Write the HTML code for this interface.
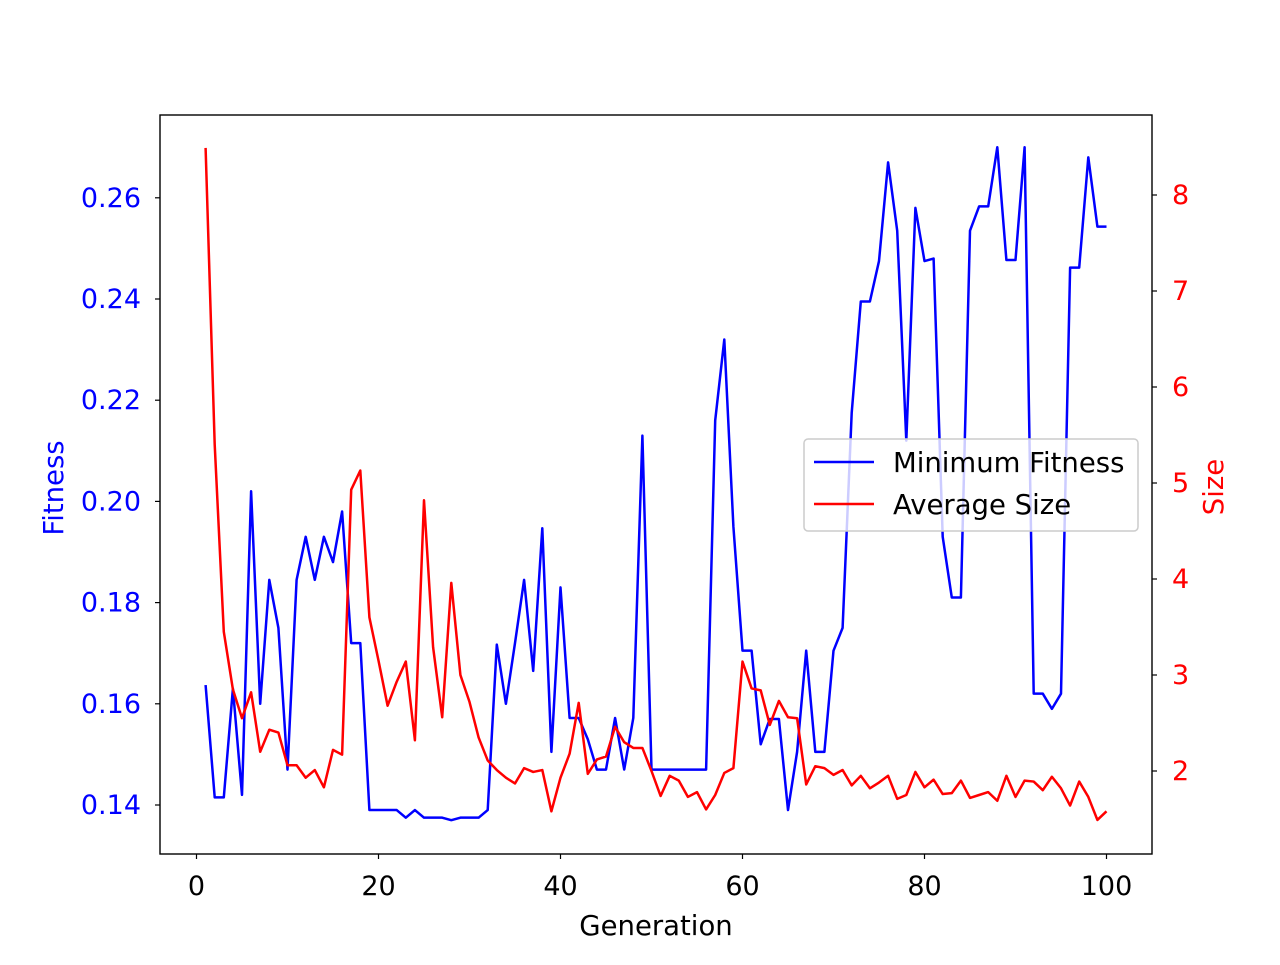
<!DOCTYPE html>
<html><head><meta charset="utf-8"><style>
body{margin:0;background:#fff;font-family:"Liberation Sans","DejaVu Sans",sans-serif;}
svg text{font-family:"DejaVu Sans","Liberation Sans",sans-serif;}
</style></head><body>
<svg id="chart" width="1280" height="960" viewBox="0 0 1280 960" xmlns="http://www.w3.org/2000/svg">
<rect width="1280" height="960" fill="#fff"/>
<g id="plot"></g>
</svg>
<script>
const generations = Array.from({length:100},(_,i)=>i+1);
const minFitness = [0.1637,0.1415,0.1415,0.163,0.142,0.202,0.160,0.1845,0.175,0.147,
0.1845,0.193,0.1845,0.193,0.188,0.198,0.172,0.172,0.139,0.139,
0.139,0.139,0.1375,0.139,0.1375,0.1375,0.1375,0.137,0.1375,0.1375,
0.1375,0.139,0.1717,0.160,0.172,0.1845,0.1665,0.1947,0.1505,0.183,
0.1572,0.1572,0.153,0.147,0.147,0.1572,0.147,0.1572,0.213,0.147,
0.147,0.147,0.147,0.147,0.147,0.147,0.216,0.232,0.195,0.1705,
0.1705,0.152,0.157,0.157,0.139,0.1505,0.1705,0.1505,0.1505,0.1705,
0.175,0.2175,0.2395,0.2395,0.2475,0.267,0.2535,0.212,0.258,0.2475,
0.248,0.193,0.181,0.181,0.2535,0.2583,0.2583,0.270,0.2477,0.2477,
0.270,0.162,0.162,0.159,0.162,0.2462,0.2462,0.268,0.2543,0.2543];
const avgSize = [8.49,5.4,3.45,2.85,2.55,2.82,2.2,2.43,2.4,2.06,
2.06,1.93,2.01,1.83,2.22,2.17,4.93,5.13,3.6,3.15,
2.68,2.93,3.14,2.32,4.82,3.29,2.56,3.96,3.0,2.72,
2.35,2.11,2.01,1.93,1.87,2.03,1.99,2.01,1.58,1.93,
2.18,2.71,1.97,2.12,2.15,2.46,2.3,2.24,2.24,2.0,
1.74,1.95,1.9,1.73,1.78,1.6,1.75,1.98,2.03,3.14,
2.86,2.84,2.48,2.73,2.56,2.55,1.86,2.05,2.03,1.96,
2.01,1.85,1.95,1.82,1.88,1.95,1.71,1.75,1.99,1.83,
1.91,1.76,1.77,1.9,1.72,1.75,1.78,1.69,1.95,1.73,
1.9,1.89,1.8,1.94,1.82,1.64,1.89,1.73,1.49,1.58];
const xTicks = [0,20,40,60,80,100];
const leftTicks = [0.14,0.16,0.18,0.20,0.22,0.24,0.26];
const rightTicks = [2,3,4,5,6,7,8];

const X0=160,X1=1152,Y0=115,Y1=854;
const xs = g => 196.5 + g*9.1;
const yl = v => 805 - (v-0.14)/0.02*101.2;
const yr = v => 771 - (v-2)*96;
const NS='http://www.w3.org/2000/svg';
const plot=document.getElementById('plot');
function mk(tag,attrs,parent){const e=document.createElementNS(NS,tag);for(const k in attrs)e.setAttribute(k,attrs[k]);(parent||plot).appendChild(e);return e;}

const pb=mk('polyline',{points:generations.map((g,i)=>xs(g)+','+yl(minFitness[i])).join(' '),fill:'none',stroke:'#0000ff','stroke-width':2.5,'stroke-linejoin':'round'});


const pr=mk('polyline',{points:generations.map((g,i)=>xs(g)+','+yr(avgSize[i])).join(' '),fill:'none',stroke:'#ff0000','stroke-width':2.5,'stroke-linejoin':'round'});



const frame=mk('rect',{x:X0,y:Y0,width:X1-X0,height:Y1-Y0,fill:'none',stroke:'#000','stroke-width':1.4});



xTicks.forEach(t=>{
  const x=xs(t);
  mk('line',{x1:x,x2:x,y1:Y1,y2:Y1+5,stroke:'#000','stroke-width':1.2});
  const tx=mk('text',{x:x,y:Y1+41,'text-anchor':'middle','font-size':27,fill:'#000'});
  tx.textContent=t;
  
  
});
leftTicks.forEach(t=>{
  const y=yl(t);
  mk('line',{x1:X0-5,x2:X0,y1:y,y2:y,stroke:'#000','stroke-width':1.2});
  const tx=mk('text',{x:X0-19,y:y+9,'text-anchor':'end','font-size':27,fill:'#0000ff'});
  tx.textContent=t.toFixed(2);
  
  
});
rightTicks.forEach(t=>{
  const y=yr(t);
  mk('line',{x1:X1,x2:X1+5,y1:y,y2:y,stroke:'#000','stroke-width':1.2});
  const tx=mk('text',{x:X1+20,y:y+9,'text-anchor':'start','font-size':27,fill:'#ff0000'});
  tx.textContent=t;
  
  
});
</script>
<svg style="position:absolute;left:0;top:0" width="1280" height="960" xmlns="http://www.w3.org/2000/svg">
<text x="656" y="935" text-anchor="middle" font-size="27.5" fill="#000" font-family="DejaVu Sans, sans-serif">Generation</text>
<text transform="translate(63,488) rotate(-90)" text-anchor="middle" font-size="27.5" fill="#0000ff" font-family="DejaVu Sans, sans-serif">Fitness</text>
<text transform="translate(1223,487) rotate(-90)" text-anchor="middle" font-size="27.5" fill="#ff0000" font-family="DejaVu Sans, sans-serif">Size</text>
<g>
<rect x="804" y="439" width="334" height="92" rx="4" fill="#fff" fill-opacity="0.8" stroke="#ccc" stroke-width="1.5"/>
<line x1="814" x2="874" y1="462" y2="462" stroke="#0000ff" stroke-width="2.5"/>
<text x="893" y="472" font-size="27.5" fill="#000" font-family="DejaVu Sans, sans-serif">Minimum Fitness</text>
<line x1="814" x2="874" y1="504" y2="504" stroke="#ff0000" stroke-width="2.5"/>
<text x="893" y="514" font-size="27.5" fill="#000" font-family="DejaVu Sans, sans-serif">Average Size</text>
</g>
</svg>
</body></html>
